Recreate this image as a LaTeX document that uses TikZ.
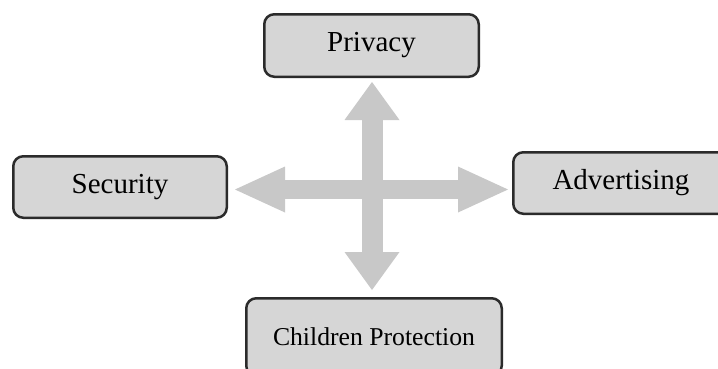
\documentclass[tikz,border=0pt]{standalone}
\usepackage{fontspec}
\setmainfont{Liberation Serif}
\usetikzlibrary{arrows.meta}
\definecolor{boxfill}{RGB}{214,214,214}
\definecolor{boxline}{RGB}{43,43,43}
\definecolor{crossgray}{RGB}{200,200,200}
\tikzset{
  topicbox/.style={draw=boxline, line width=2.5pt, fill=boxfill, rounded corners=10pt,
    inner sep=0pt, font=\fontsize{29}{34}\selectfont},
  crossarrow/.style={draw=crossgray, line width=#1}
}
\begin{document}
\begin{tikzpicture}[x=1pt,y=-1pt]
                    \useasboundingbox (0,0) rectangle (718,368);

                    \node[topicbox, minimum width=214.5pt, minimum height=62.5pt] (priv) at (371.5,45.5) {Privacy};
                    \node[topicbox, minimum width=213.5pt, minimum height=61.5pt] (sec) at (120,187) {Security};
                    \node[topicbox, minimum width=215.5pt, minimum height=61.5pt] (adv) at (621,183) {Advertising};
                    \node[topicbox, minimum width=255.5pt, minimum height=77.5pt, font=\fontsize{25.7}{31}\selectfont] (child) at (374,337) {Children Protection};

                    \coordinate (c) at (372,189.5);

                    \draw[crossarrow=19pt, {Triangle[length=50pt,width=46pt,line width=0pt]}-{Triangle[length=50pt,width=46pt,line width=0pt]}, shorten <=7pt, shorten >=4pt]
                      (c -| sec.east) -- (c -| adv.west);
                    \draw[crossarrow=21pt, {Triangle[length=38pt,width=55pt,line width=0pt]}-{Triangle[length=38pt,width=55pt,line width=0pt]}, shorten <=4pt, shorten >=7pt]
                      (c |- priv.south) -- (c |- child.north);

                  \end{tikzpicture}
\end{document}
